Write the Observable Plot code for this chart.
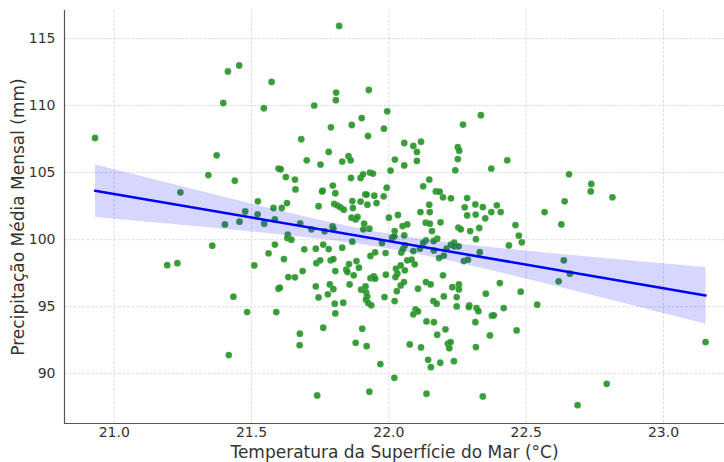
<!DOCTYPE html>
<html><head><meta charset="utf-8">
<script src="https://cdn.jsdelivr.net/npm/d3@7"></script>
<script src="https://cdn.jsdelivr.net/npm/@observablehq/plot@0.6"></script>
<style>body{margin:0;background:#fff} svg{display:block}</style>
</head><body><div id="chart"></div>
<script>
const sst = [
20.93,21.455,21.414,21.397,21.373,21.343,21.439,21.241,
21.403,21.456,21.357,21.193,21.230,21.434,21.417,
21.819,21.573,21.808,21.807,21.927,21.545,21.728,21.994,
22.335,
21.901,21.789,21.865,21.982,21.924,22.056,21.681,21.781,21.701,21.751,21.830,21.853,21.861,22.022,22.056,21.598,21.606,21.625,21.658,21.660,
21.523,21.580,21.610,21.629,21.477,21.862,21.897,21.906,21.931,21.942,22.006,21.992,21.981,21.947,21.914,21.919,21.897,21.922,21.955,21.867,
21.869,21.796,21.805,21.759,21.757,21.744,21.801,21.813,21.824,21.836,
22.270,22.117,22.089,22.102,22.102,22.251,22.256,22.251,22.242,22.373,22.431,22.656,22.147,22.125,22.171,22.185,22.197,22.226,22.285,22.315,
22.342,22.393,22.276,22.147,22.115,22.149,22.640,22.567,22.407,22.373,
22.737,22.735,22.814,23.153,22.793,22.687,
21.522,21.585,21.546,21.677,21.718,21.766,21.795,21.798,21.864,21.879,21.886,21.910,21.929,21.907,22.0,22.033,22.021,22.050,22.067,22.056,
22.012,22.020,21.975,21.867,21.830,21.632,21.630,21.645,21.585,21.562,21.618,21.510,21.692,21.734,21.761,21.781,21.736,21.750,21.788,21.798,
21.686,21.634,21.658,21.598,21.603,21.805,21.855,21.845,21.849,21.882,21.891,21.872,21.857,21.785,21.798,21.734,21.778,21.744,21.803,21.834,
21.899,21.915,21.917,21.921,21.917,21.925,21.933,21.945,21.950,21.933,21.950,21.988,21.989,21.984,22.021,22.029,22.026,22.031,22.024,22.058,
22.043,22.067,22.045,22.051,22.058,22.043,22.055,
22.285,22.316,22.351,22.134,22.149,22.188,22.253,22.262,22.296,22.329,22.157,22.461,22.628,22.473,22.484,22.437,22.317,22.176,22.163,22.135,
22.125,22.089,22.083,22.094,22.113,22.164,22.200,22.183,22.210,22.226,22.238,22.238,22.254,22.273,22.288,22.331,22.637,22.659,22.618,22.404,
22.197,22.135,22.152,22.106,22.231,22.255,22.255,22.353,22.480,22.200,22.247,22.162,22.174,22.293,22.540,
21.484,21.590,21.805,21.936,21.761,21.676,21.675,21.903,21.879,21.919,21.969,22.020,21.739,21.929,22.076,
22.097,22.106,22.089,22.247,22.291,22.319,22.326,22.418,22.375,22.382,22.137,22.164,22.315,22.206,22.176,22.368,22.465,22.117,22.215,22.225,
22.220,22.317,22.143,22.153,22.187,22.237,22.137,22.342
];
const precip = [
107.58,112.99,112.54,110.19,106.29,104.82,104.40,103.53,
101.14,101.34,99.55,98.10,98.25,95.75,91.39,
115.94,111.76,110.97,110.40,111.16,109.80,110.0,109.57,
109.28,
109.07,108.38,108.55,108.28,107.73,107.21,107.49,106.54,105.92,105.60,105.82,106.22,105.92,105.97,105.54,105.30,105.25,104.67,104.48,103.75,
102.86,102.36,102.36,102.73,102.10,104.60,104.60,104.87,105.0,104.93,105.15,103.88,103.23,103.28,103.38,103.36,102.84,102.61,102.73,102.88,
102.36,104.03,103.46,103.66,103.60,102.49,102.66,102.54,102.41,102.24,
108.58,107.31,106.99,106.54,105.87,106.89,106.64,106.01,105.17,105.30,105.92,104.87,104.48,103.98,103.60,103.58,103.16,103.08,103.10,102.63,
102.43,102.56,102.41,102.61,102.06,102.06,102.86,102.06,102.06,102.06,
104.15,103.60,103.16,92.36,89.25,87.66,
101.89,101.51,101.19,101.22,100.77,100.62,100.99,100.82,101.64,101.51,101.69,101.19,100.82,100.77,101.64,101.84,100.64,101.01,101.14,100.32,
100.15,100.25,99.75,99.85,99.40,100.37,100.12,100.0,99.63,98.98,98.55,98.08,99.28,99.33,99.63,99.30,98.25,98.46,98.46,98.55,
97.66,97.21,97.19,96.34,96.42,97.66,98.18,97.76,97.58,98.40,97.91,97.34,96.66,96.66,96.31,96.51,95.92,95.69,95.22,95.30,
96.27,96.51,96.07,95.77,95.52,95.27,97.13,97.26,97.09,98.78,99.05,99.0,97.39,95.72,95.42,96.16,97.84,97.46,97.21,97.71,
98.08,98.46,99.03,99.28,99.57,96.59,96.84,
101.81,101.87,101.59,101.27,101.19,101.29,100.90,100.77,100.64,100.87,100.64,101.09,101.14,100.30,99.80,99.57,100.04,100.07,99.90,99.95,
99.75,99.15,98.51,98.16,99.33,99.20,98.81,98.63,99.33,99.63,99.78,99.50,99.50,98.40,98.51,99.07,98.46,97.46,96.89,96.76,
97.34,96.84,96.66,96.34,96.46,96.66,96.29,95.97,96.12,95.77,95.72,95.42,95.22,95.10,95.15,
94.60,94.60,94.50,95.10,93.43,92.99,92.13,93.36,92.31,92.06,90.72,89.70,88.38,88.66,92.19,
94.80,94.65,94.43,95.02,94.97,94.90,94.67,94.90,94.33,94.36,93.90,93.85,93.85,93.31,92.91,92.86,93.23,91.96,92.24,92.36,
91.91,91.99,91.04,90.49,90.82,90.94,88.51,88.31
];
const xTicks = [21.0, 21.5, 22.0, 22.5, 23.0];
const yTicks = [90, 95, 100, 105, 110, 115];
const xLabel = "Temperatura da Superfície do Mar (°C)";
const yLabel = "Precipitação Média Mensal (mm)";
const xDomain = [20.819, 23.222];
const yDomain = [86.29, 117.09];

const data = sst.map((x, i) => ({x, y: precip[i]}));

const chart = Plot.plot({
  width: 724, height: 462,
  marginLeft: 64, marginRight: 0, marginTop: 10, marginBottom: 39,
  style: {fontFamily: "DejaVu Sans", background: "#fff"},
  x: {domain: xDomain},
  y: {domain: yDomain},
  marks: [
    Plot.gridX(xTicks, {stroke: "#d6d6d6", strokeOpacity: 1, strokeDasharray: "3,1.5", strokeWidth: 0.8}),
    Plot.gridY(yTicks, {stroke: "#d6d6d6", strokeOpacity: 1, strokeDasharray: "3,1.5", strokeWidth: 0.8}),
    Plot.dot(data, {x: "x", y: "y", r: 3.4, fill: "#229122", fillOpacity: 0.9, stroke: "#fff", strokeWidth: 0.25, strokeOpacity: 0.6}),
    Plot.linearRegressionY(data, {x: "x", y: "y", stroke: "#0000ff", strokeWidth: 2.5, fill: "#0000ff", fillOpacity: 0.16, ci: 0.95}),
    Plot.ruleX([xDomain[0]], {stroke: "#555", strokeWidth: 1.2}),
    Plot.ruleY([yDomain[0]], {stroke: "#555", strokeWidth: 1.2}),
    Plot.axisX(xTicks, {tickSize: 0, tickPadding: 4, tickFormat: d => d.toFixed(1), fontSize: 14, fill: "#333", label: null}),
    Plot.axisY(yTicks, {tickSize: 0, tickPadding: 9, fontSize: 14, fill: "#333", label: null}),
    Plot.text([xLabel], {text: d => d, frameAnchor: "bottom", textAnchor: "middle", lineAnchor: "middle", dy: 29, fontSize: 17, fill: "#333"}),
    Plot.text([yLabel], {text: d => d, frameAnchor: "left", textAnchor: "middle", lineAnchor: "middle", rotate: -90, dx: -46, fontSize: 17, fill: "#333"})
  ]
});
document.getElementById("chart").appendChild(chart);
</script>
</body></html>
